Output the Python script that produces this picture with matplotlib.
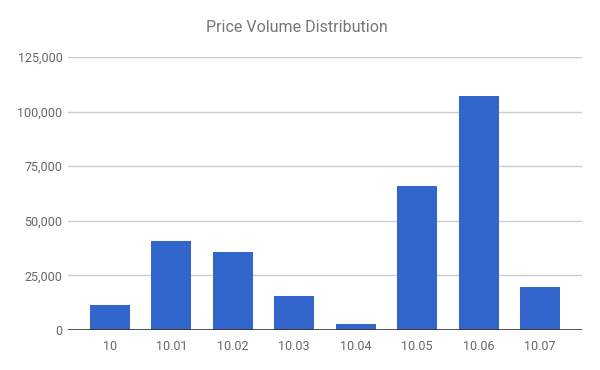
import matplotlib.pyplot as plt
from matplotlib.ticker import FuncFormatter

prices = ['10', '10.01', '10.02', '10.03', '10.04', '10.05', '10.06', '10.07']
volumes = [11300, 40700, 35700, 15600, 2800, 66000, 107200, 19700]
y_ticks = [0, 25000, 50000, 75000, 100000, 125000]

plt.rcParams['font.family'] = ['Roboto', 'DejaVu Sans']

fig = plt.figure(figsize=(6, 3.7), dpi=100)
ax = fig.add_axes([68 / 600, 40 / 370, 514 / 600, 273 / 370])

x = range(len(prices))
ax.bar(x, volumes, width=0.65, color='#3366cc', zorder=3)

ax.set_xlim(-0.68, len(prices) - 1 + 0.68)
ax.set_ylim(0, 125000)
ax.set_yticks(y_ticks)
ax.yaxis.set_major_formatter(FuncFormatter(lambda v, p: f'{int(v):,}'))
ax.set_xticks(list(x))
ax.set_xticklabels(prices)

ax.grid(axis='y', color='#cccccc', linewidth=1, zorder=0)
ax.axhline(0, color='#333333', linewidth=1.2, zorder=4)
for s in ax.spines.values():
    s.set_visible(False)
ax.tick_params(axis='both', length=0, labelsize=9, labelcolor='#666666')
ax.tick_params(axis='x', pad=7)
ax.tick_params(axis='y', pad=4)

fig.text(0.494, 1 - 28 / 370, 'Price Volume Distribution', ha='center', va='center',
         fontsize=11.5, color='#757575')

fig.savefig('out.png', dpi=100)
